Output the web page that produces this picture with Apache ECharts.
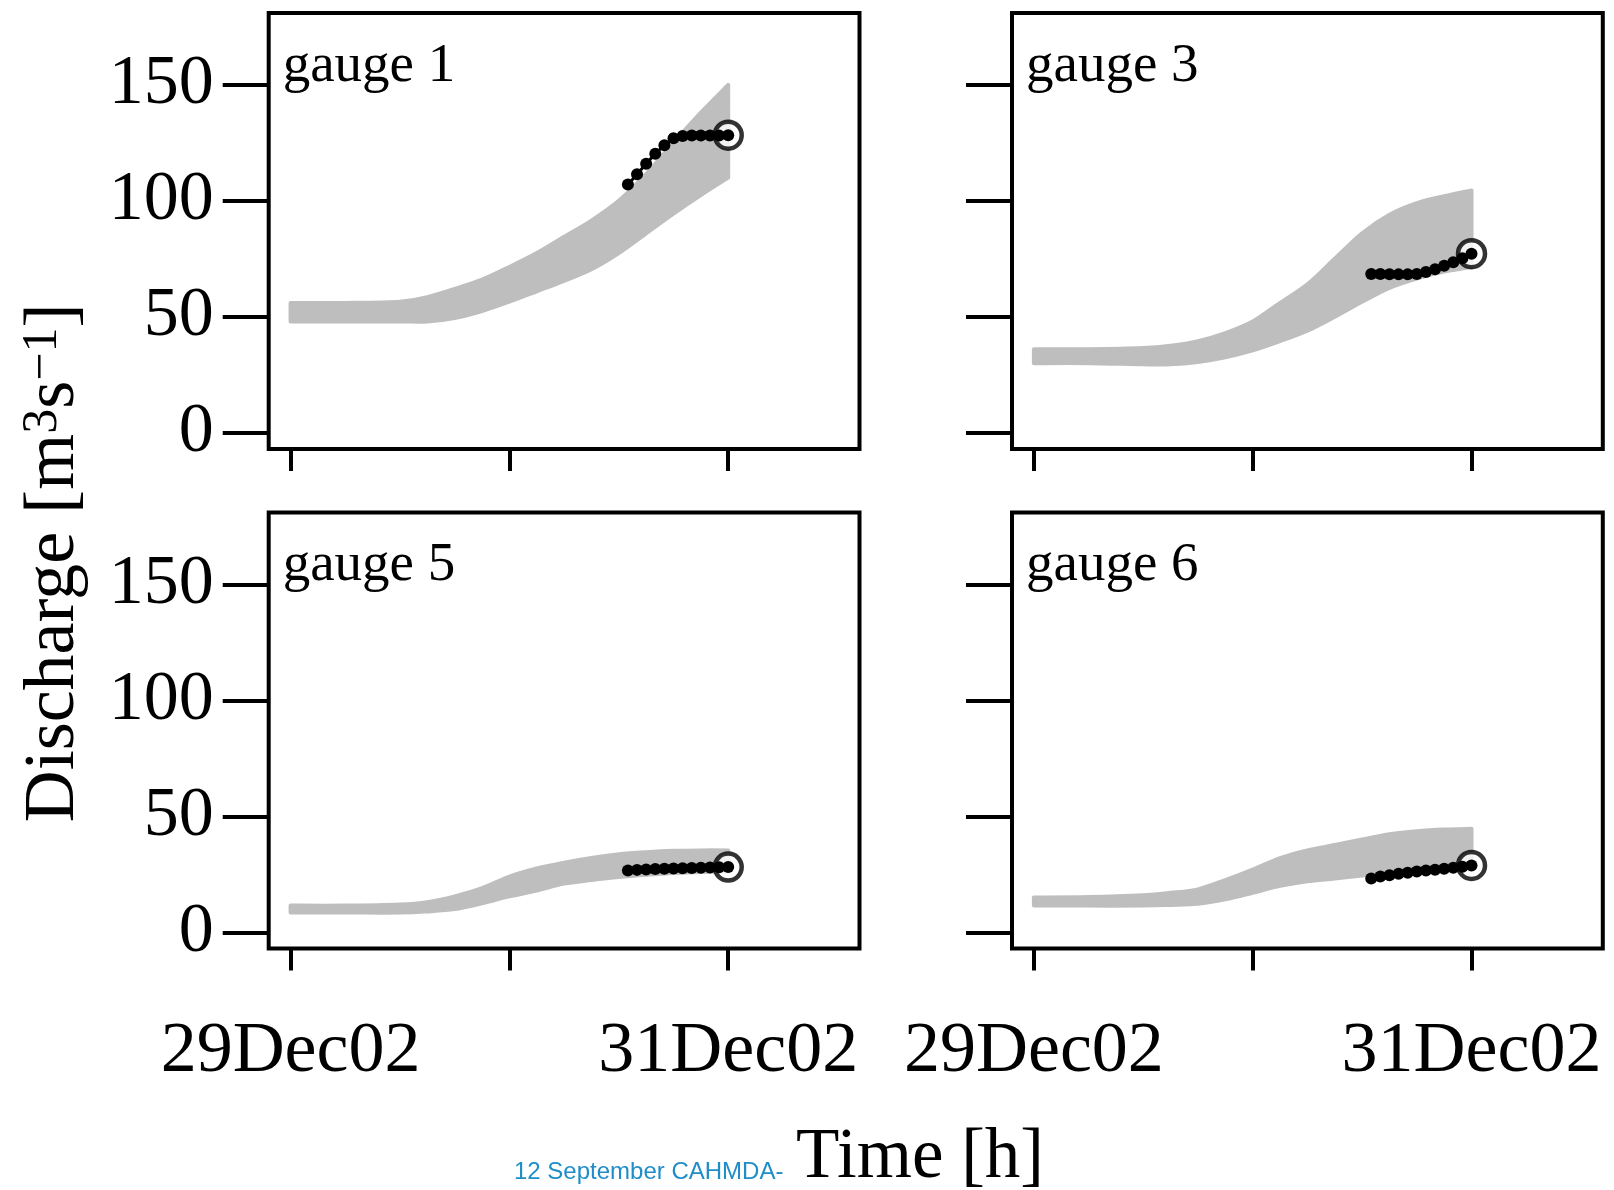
<!DOCTYPE html>
<html><head><meta charset="utf-8">
<script src="https://cdn.jsdelivr.net/npm/echarts@6/dist/echarts.min.js"></script>
<style>html,body{margin:0;padding:0;background:#fff}#c{width:1614px;height:1190px}</style>
</head><body><div id="c"></div>
<script>
// ---- data (hours since 29Dec02 00:00) ----
const bandHours = [0, 6, 12, 15, 18, 21, 24, 27, 30, 33, 36, 39, 42, 45, 48];
// ensemble envelope (lowest / highest member) per gauge, m3/s
const g1Low  = [48, 48, 48, 48, 49.5, 52.5, 56.5, 61, 65.5, 70.5, 77.5, 86, 94.5, 102.5, 110];
const g1High = [56, 56, 56.5, 58.5, 62, 66, 71.5, 77.5, 84.5, 91.5, 100, 111.5, 125, 138, 150];
const g3Low  = [30, 30, 29.5, 29.5, 30.5, 32.5, 35.5, 39.5, 44, 50, 56.5, 62.5, 66.5, 69.5, 71.5];
const g3High = [36, 36, 36.5, 37.5, 39.5, 43, 48, 56, 64, 75, 86, 94, 99, 102, 104.5];
const g5Low  = [8.5, 8.5, 8.5, 9, 10, 12.5, 15.5, 18, 21, 22.5, 23.8, 24.8, 25.6, 26, 26.3];
const g5High = [11.5, 11.5, 12, 13, 15.5, 19, 24, 27.5, 30, 32, 33.6, 34.5, 35.1, 35.3, 35.3];
const g6Low  = [11.5, 11.5, 11.5, 11.8, 12.3, 14.2, 17, 20, 22, 23.2, 24.5, 25.8, 26.8, 27.8, 28.8];
const g6High = [15, 15.2, 16, 17, 18.5, 22.5, 27, 32, 35.3, 37.6, 40, 42.3, 43.6, 44.3, 44.6];
// observations
const obsHours = [37, 38, 39, 40, 41, 42, 43, 44, 45, 46, 47, 48];
const obs1 = [107, 111.5, 116, 120.3, 124, 127, 128, 128.2, 128.2, 128.2, 128.2, 128.3];
const obs3 = [68.5, 68.5, 68.4, 68.3, 68.3, 68.5, 69.3, 70.5, 72, 73.5, 75.2, 77.2];
const obs5 = [26.6, 26.9, 27.1, 27.3, 27.4, 27.5, 27.6, 27.7, 27.8, 27.9, 28, 28.1];
const obs6 = [23.2, 24, 24.6, 25.2, 25.7, 26.2, 26.6, 27, 27.4, 27.8, 28.3, 28.8];
// ticks / labels
const yTicks = [0, 50, 100, 150];
const xTickHours = [0, 24, 48];
const xLabelHours = [0, 48];
const xLabelTexts = ['29Dec02', '31Dec02'];
const gaugeNames = ['gauge 1', 'gauge 3', 'gauge 5', 'gauge 6'];

const lows = [g1Low, g3Low, g5Low, g6Low];
const highs = [g1High, g3High, g5High, g6High];
const obsAll = [obs1, obs3, obs5, obs6];

// ---- layout ----
const SERIF = 'Liberation Serif, Times New Roman, serif';
const boxes = [
  {left: 268.7, top: 13},
  {left: 1012, top: 13},
  {left: 268.7, top: 512.5},
  {left: 1012, top: 512.5}
];
const W = 590.8, H = 436;

// smooth curve segments through pixel points (Catmull-Rom -> cubic Bezier)
function curveSegs(pts, k) {
  let d = '';
  for (let j = 0; j < pts.length - 1; j++) {
    const p0 = pts[Math.max(j - 1, 0)], p1 = pts[j], p2 = pts[j + 1],
          p3 = pts[Math.min(j + 2, pts.length - 1)];
    const c1 = [p1[0] + (p2[0] - p0[0]) * k, p1[1] + (p2[1] - p0[1]) * k];
    const c2 = [p2[0] - (p3[0] - p1[0]) * k, p2[1] - (p3[1] - p1[1]) * k];
    d += ' C' + c1[0] + ',' + c1[1] + ' ' + c2[0] + ',' + c2[1] + ' ' + p2[0] + ',' + p2[1];
  }
  return d;
}

const grids = [], xAxes = [], yAxes = [], series = [], graphics = [];
boxes.forEach((b, i) => {
  const isLeft = (i % 2 === 0), isBottom = (i >= 2);
  grids.push({left: b.left, top: b.top, width: W, height: H, show: true,
    borderColor: '#000', borderWidth: 4, backgroundColor: 'transparent', containLabel: false});
  xAxes.push({type: 'value', gridIndex: i, min: -2.4, max: 62.4, position: 'bottom',
    axisLine: {show: false, onZero: false}, splitLine: {show: false},
    axisTick: {show: true, inside: false, length: 22, customValues: xTickHours,
      lineStyle: {color: '#000', width: 4}},
    axisLabel: {show: isBottom, customValues: xLabelHours, margin: 68,
      fontFamily: SERIF, fontSize: 72, color: '#000',
      formatter: v => xLabelTexts[xLabelHours.indexOf(v)] || ''}
  });
  yAxes.push({type: 'value', gridIndex: i, min: -7, max: 181, position: 'left',
    axisLine: {show: false, onZero: false}, splitLine: {show: false},
    axisTick: {show: true, inside: false, length: 46, customValues: yTicks,
      lineStyle: {color: '#000', width: 4}},
    axisLabel: {show: isLeft, customValues: yTicks, margin: 55,
      fontFamily: SERIF, fontSize: 70, color: '#000'}
  });
  const lo = lows[i], hi = highs[i], ob = obsAll[i];
  series.push({type: 'custom', xAxisIndex: i, yAxisIndex: i, silent: true, z: 1,
    data: bandHours.map((t, k) => [t, lo[k], hi[k]]),
    encode: {x: 0, y: [1, 2]},
    renderItem: (params, api) => {
      if (params.dataIndex !== 0) return null;
      const up = bandHours.map((t, k) => api.coord([t, hi[k]]));
      const dn = bandHours.map((t, k) => api.coord([t, lo[k]])).reverse();
      const d = 'M' + up[0][0] + ',' + up[0][1] + curveSegs(up, 0.16) +
        ' L' + dn[0][0] + ',' + dn[0][1] + curveSegs(dn, 0.16) + ' Z';
      return {type: 'path', shape: {pathData: d},
        style: {fill: '#bebebe', stroke: '#bebebe', lineWidth: 4, lineJoin: 'round'}};
    }
  });
  const lastIdx = ob.length - 1;
  series.push({type: 'scatter', xAxisIndex: i, yAxisIndex: i,
    data: [[obsHours[lastIdx], ob[lastIdx]]], symbol: 'circle', symbolSize: 27,
    itemStyle: {color: '#fff', borderColor: '#000', borderWidth: 4.5}, silent: true, z: 2});
  series.push({type: 'line', xAxisIndex: i, yAxisIndex: i,
    data: obsHours.map((t, k) => [t, ob[k]]), symbol: 'circle', symbolSize: 12,
    showAllSymbol: true, itemStyle: {color: '#000'}, lineStyle: {color: '#000', width: 3},
    silent: true, z: 3});
  graphics.push({type: 'text', left: b.left + 14, top: b.top + 26,
    style: {text: gaugeNames[i], fontFamily: SERIF, fontSize: 55, fill: '#000'}});
});

graphics.push({type: 'text', x: 54, y: 563, rotation: Math.PI / 2,
  style: {text: 'Discharge [m{sup|3}s{sup|\u22121}]', fontFamily: SERIF, fontSize: 72,
    fill: '#000', align: 'center', verticalAlign: 'middle', lineHeight: 72,
    rich: {sup: {fontFamily: SERIF, fontSize: 50, lineHeight: 50, verticalAlign: 'top', fill: '#000'}}}});
graphics.push({type: 'text', x: 920, y: 1158,
  style: {text: 'Time [h]', fontFamily: SERIF, fontSize: 71, fill: '#000',
    align: 'center', verticalAlign: 'middle'}});
graphics.push({type: 'text', x: 514, y: 1172,
  style: {text: '12 September CAHMDA-', fontFamily: 'Liberation Sans, Arial, sans-serif',
    fontSize: 24, fill: '#1f8dc8', align: 'left', verticalAlign: 'middle'}});

const chart = echarts.init(document.getElementById('c'), null, {renderer: 'canvas'});
chart.setOption({animation: false, backgroundColor: '#fff',
  grid: grids, xAxis: xAxes, yAxis: yAxes, series: series, graphic: graphics});
</script></body></html>
